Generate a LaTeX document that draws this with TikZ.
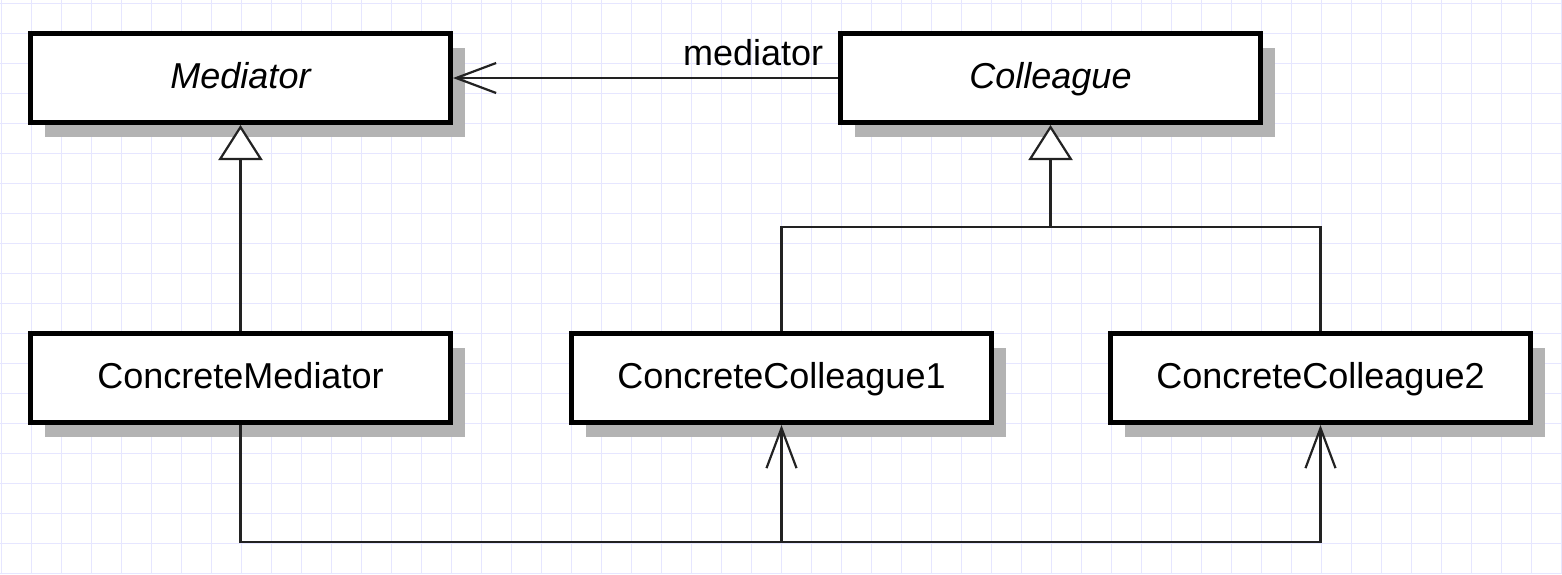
\documentclass[tikz,border=0pt]{standalone}
\usepackage{fontspec}
\setmainfont{Liberation Sans}
\usepackage{xcolor}
\usepackage{tikz}
\usetikzlibrary{arrows.meta,shapes,positioning,shadows}

\definecolor{gridlav}{RGB}{230,230,255}
\definecolor{shadowgray}{RGB}{179,179,179}
\definecolor{linegray}{RGB}{34,34,34}

\begin{document}
\begin{tikzpicture}[
    x=0.5pt, y=-0.5pt,
    every node/.style={font=\fontsize{18pt}{21pt}\selectfont},
    gridline/.style={draw=gridlav, line width=0.5pt},
    classbox/.style={rectangle, draw, line width=2.5pt, fill=white, minimum width=210pt, minimum height=44.5pt, inner sep=0pt,
      text height=13pt, text depth=3pt, text centered,
      drop shadow={shadow xshift=7pt, shadow yshift=-7pt, opacity=1, fill=shadowgray}},
    abstract/.style={classbox, font=\fontsize{18pt}{21pt}\selectfont\itshape},
    conn/.style={draw=linegray, line width=1.1pt},
    inherit/.style={conn, -{Triangle[length=17.5pt, width=22pt, fill=white]}},
    assoc/.style={conn, -{Straight Barb[length=20pt, width=15pt]}}
  ]
    \useasboundingbox (0,0) rectangle (1562,574);

    % Grid
    \foreach \gx in {1,31,...,1561}
      \draw[gridline] (\gx,0) -- (\gx,574);
    \foreach \gy in {3,33,...,573}
      \draw[gridline] (0,\gy) -- (1562,\gy);

    % Classes
    \node[abstract] (med) at (240.5,78) {Mediator};
    \node[abstract] (coll) at (1050.5,78) {Colleague};

    \node[classbox] (cmed) at (240.5,378) {ConcreteMediator};
    \node[classbox] (cc1) at (781.5,378) {ConcreteColleague1};
    \node[classbox] (cc2) at (1320.5,378) {ConcreteColleague2};

    % Generalization
    \draw[inherit] (cmed) -- (med);
    \coordinate (fork) at (1050.5,227);
    \draw[conn] (cc1) |- (fork) -| (cc2);
    \draw[inherit] (fork) -- (coll);

    % Associations
    \draw[assoc] (coll) -- (med) node[pos=0, anchor=base east, xshift=-3.5pt, yshift=6.5pt] (lbl) {mediator};

    \coordinate (rail) at (0,542);
    \draw[assoc] (cmed) |- (cc2 |- rail) -- (cc2);
    \draw[assoc] (cc1 |- rail) -- (cc1);
  \end{tikzpicture}
\end{document}
